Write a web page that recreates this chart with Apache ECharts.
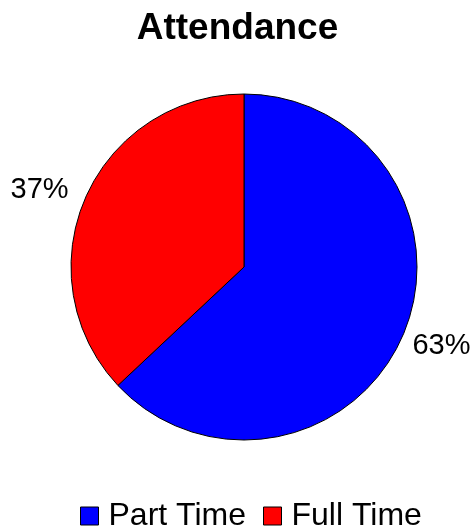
<!DOCTYPE html>
<html>
<head>
<meta charset="utf-8">
<script src="https://cdn.jsdelivr.net/npm/echarts@6/dist/echarts.min.js"></script>
<style>
  html, body { margin: 0; padding: 0; background: #fff; }
  #chart { width: 475px; height: 531px; }
</style>
</head>
<body>
<div id="chart"></div>
<script>
// Attendance split
const categories = ['Part Time', 'Full Time'];
const percentages = [63, 37];
const colors = ['#0000FF', '#FF0000'];

const FONT = 'Liberation Sans, Arial, sans-serif';
const chart = echarts.init(document.getElementById('chart'), null, { renderer: 'canvas' });

chart.setOption({
  animation: false,
  backgroundColor: '#ffffff',
  title: {
    text: 'Attendance',
    left: 'center',
    top: 5,
    textStyle: { fontFamily: FONT, fontWeight: 'bold', fontSize: 37, color: '#000' }
  },
  legend: {
    data: categories,
    top: 500,
    left: 80,
    padding: 0,
    itemWidth: 18,
    itemHeight: 18,
    itemGap: 17,
    icon: 'rect',
    itemStyle: { borderColor: '#000', borderWidth: 1 },
    textStyle: { fontFamily: FONT, fontSize: 32, color: '#000', padding: [0, 0, 0, 5] }
  },
  series: [{
    type: 'pie',
    center: [244, 267],
    radius: 173,
    startAngle: 90,
    clockwise: true,
    itemStyle: { borderColor: '#000', borderWidth: 1 },
    label: {
      show: true,
      position: 'outside',
      formatter: '{d}%',
      overflow: 'none',
      alignTo: 'none',
      bleedMargin: 0,
      fontFamily: FONT,
      fontSize: 29,
      color: '#000'
    },
    labelLine: { show: false, length: 16, length2: 0 },
    // nudge the two percentage labels a little off the slice bisectors
    labelLayout: function (params) {
      return params.dataIndex === 0 ? { dx: -10, dy: 4 } : { dx: 3, dy: -2 };
    },
    emphasis: { disabled: true },
    data: categories.map((name, i) => ({ name, value: percentages[i], itemStyle: { color: colors[i] } }))
  }]
});
</script>
</body>
</html>
